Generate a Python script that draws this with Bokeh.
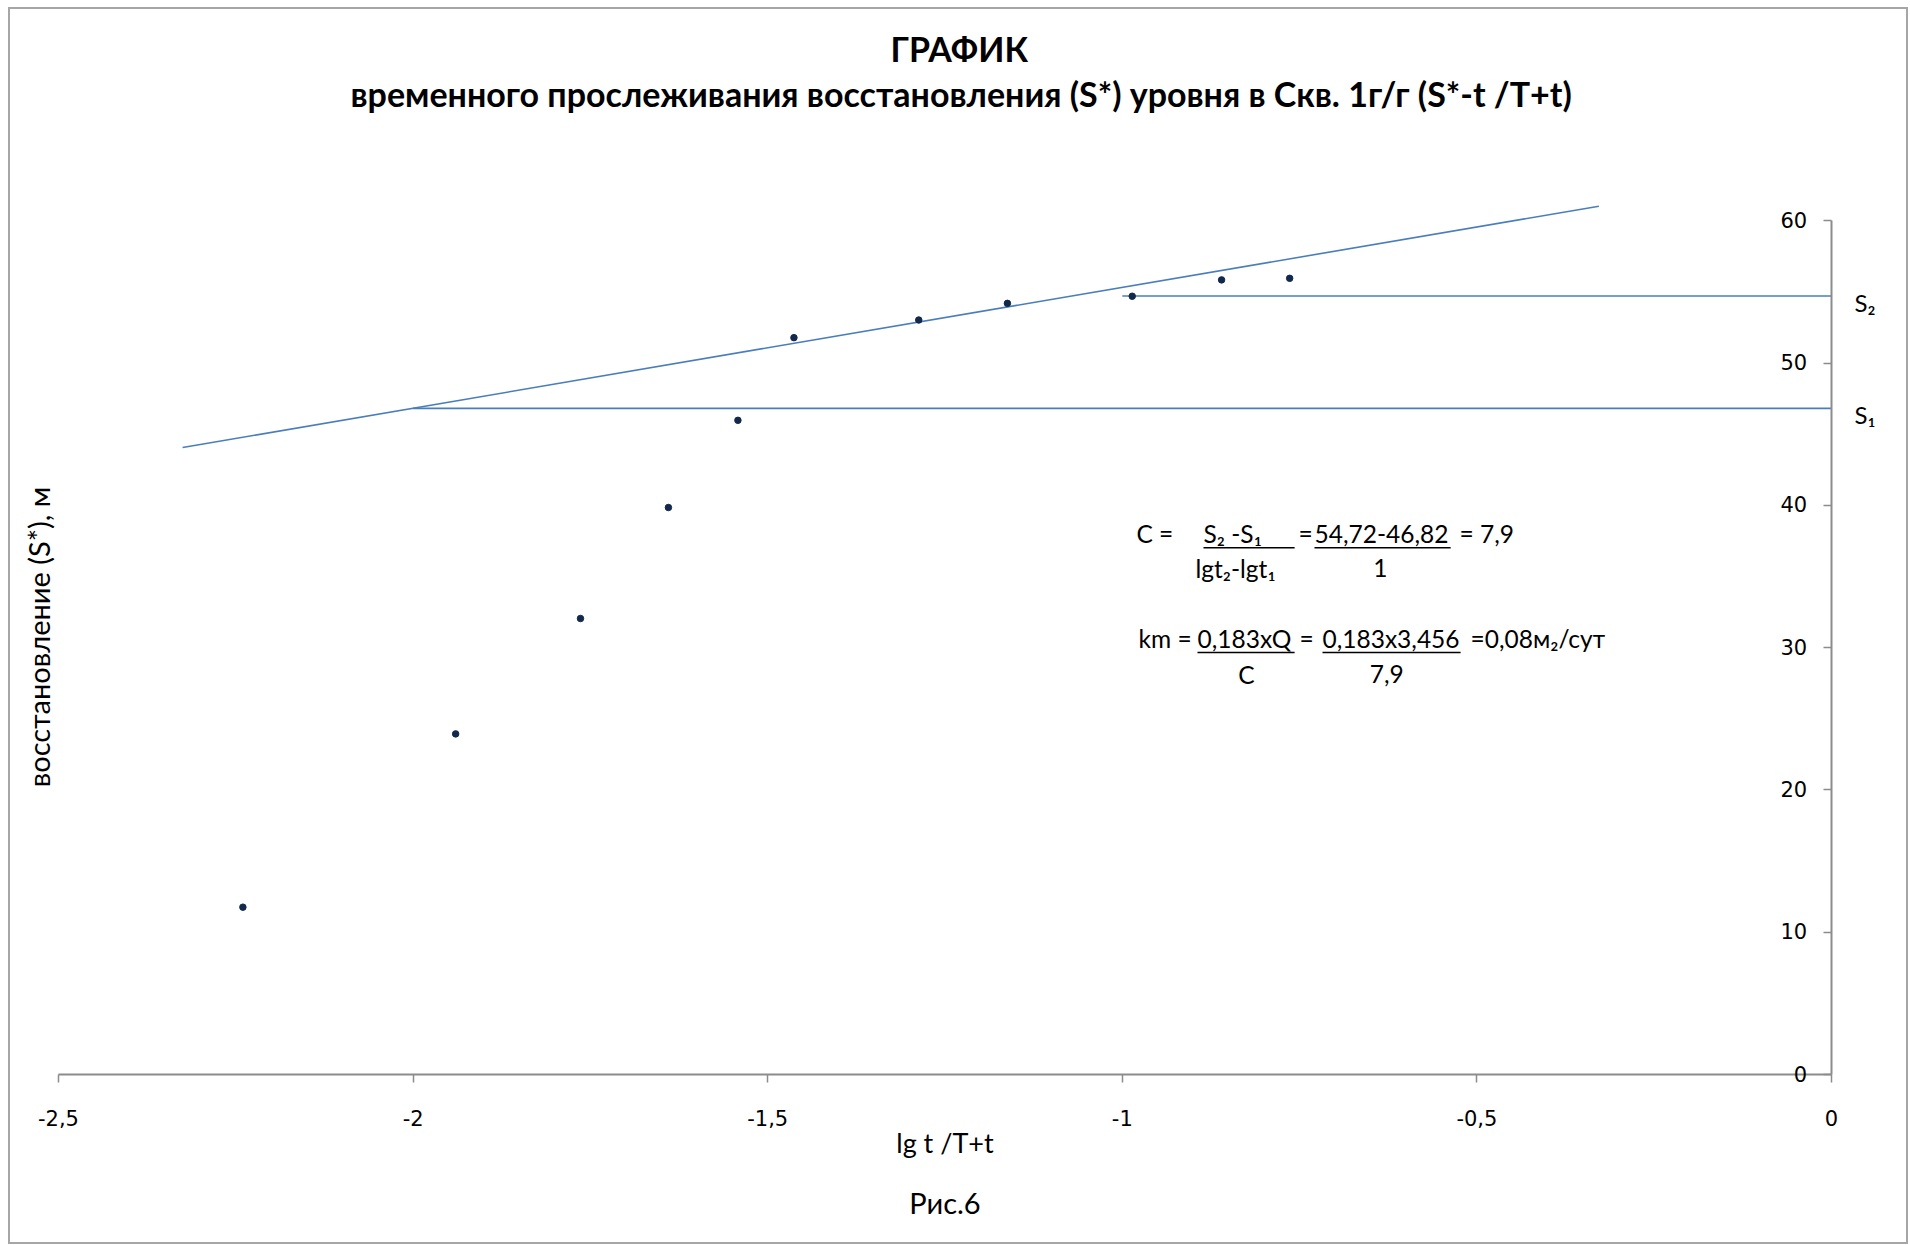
from bokeh.plotting import figure
from bokeh.models import (LinearAxis, FixedTicker, CustomJSTickFormatter, Title,
                          Range1d, ColumnDataSource)
from bokeh.embed import file_html
from bokeh.resources import INLINE
from bokeh.core.properties import value

# observations: lg t/(T+t) and recovery S*, m
lg_t = [-2.24, -1.94, -1.764, -1.64, -1.542, -1.463, -1.287, -1.162, -0.986, -0.86, -0.764]
s_star = [11.76, 23.94, 32.05, 39.85, 45.98, 51.79, 53.03, 54.2, 54.7, 55.85, 55.96]

# straight-line section drawn through the late-time points
trend_x = [-2.325, -0.328]
trend_y = [44.07, 61.03]

# levels at lg t1 = -2 and lg t2 = -1
lgt1, lgt2 = -2.0, -1.0
s1, s2 = 46.82, 54.72

x_ticks = [-2.5, -2.0, -1.5, -1.0, -0.5, 0.0]
y_ticks = [0, 10, 20, 30, 40, 50, 60]

FONT = "Lato"
TICK_FONT = "DejaVu Sans"
AXIS_GREY = "#8c8c8c"
LINE_BLUE = "#4a7ebb"
POINT_NAVY = "#13294b"
TEXT = "#000000"

p = figure(width=1896, height=1233, x_range=Range1d(-2.5, 0), y_range=Range1d(0, 61.5),
           output_backend="svg", toolbar_location=None, title=None,
           y_axis_location="right",
           min_border_left=48, min_border_right=75, min_border_top=190, min_border_bottom=168)
p.styles = {"margin-left": "10px", "margin-top": "9px", "outline": "2px solid #a6a6a6"}
p.background_fill_color = "white"
p.border_fill_color = "white"
p.outline_line_color = None
p.grid.visible = False

# x axis along S* = 0
xa = p.xaxis[0]
xa.ticker = FixedTicker(ticks=x_ticks)
xa.formatter = CustomJSTickFormatter(code="return tick.toString().replace('.', ',')")
xa.axis_line_color = AXIS_GREY
xa.axis_line_width = 2
xa.major_tick_line_color = AXIS_GREY
xa.major_tick_line_width = 1.5
xa.major_tick_out = 8
xa.major_tick_in = 0
xa.minor_tick_line_color = None
xa.major_label_text_font = TICK_FONT
xa.major_label_text_font_size = "21px"
xa.major_label_text_color = TEXT
xa.major_label_standoff = 27
xa.axis_label = "lg t /T+t"
xa.axis_label_text_font = FONT
xa.axis_label_text_font_size = "27px"
xa.axis_label_text_font_style = "normal"
xa.axis_label_text_color = TEXT
xa.axis_label_standoff = -3

# y axis at lg t = 0, labels on the inner side of the line
ya = p.yaxis[0]
ya.ticker = FixedTicker(ticks=y_ticks)
ya.bounds = (0, 60)
ya.axis_line_color = AXIS_GREY
ya.axis_line_width = 2
ya.major_tick_line_color = AXIS_GREY
ya.major_tick_line_width = 1.5
ya.major_tick_in = 8
ya.major_tick_out = 0
ya.minor_tick_line_color = None
ya.major_label_text_font = TICK_FONT
ya.major_label_text_font_size = "21px"
ya.major_label_text_color = TEXT
ya.major_label_standoff = -51
ya.major_label_overrides = {0: "\u20070"}

# S1 / S2 tags to the right of the y axis
s_tags = {54.25: "S₂", 46.42: "S₁"}
tag_axis = LinearAxis(ticker=FixedTicker(ticks=list(s_tags)), major_label_overrides=s_tags,
                      axis_line_color=None, major_tick_line_color=None,
                      minor_tick_line_color=None, major_label_text_font=FONT,
                      major_label_text_font_size="24px", major_label_text_color=TEXT,
                      major_label_standoff=17)
p.add_layout(tag_axis, "right")

# vertical axis title on the left side
left = LinearAxis(ticker=FixedTicker(ticks=[]), axis_line_color=None,
                  major_tick_line_color=None, minor_tick_line_color=None,
                  axis_label="восстановление (S*), м", axis_label_text_font=FONT,
                  axis_label_text_font_size="29px", axis_label_text_font_style="normal",
                  axis_label_text_color=TEXT, axis_label_standoff=3)
p.add_layout(left, "left")

# titles, kept clear of the plotting area by an empty spacer
spacer = Title(text=" ", text_font_size="10px", standoff=72)
p.add_layout(spacer, "above")
t2 = Title(text="временного прослеживания восстановления (S*) уровня в Скв. 1г/г (S*-t /T+t)",
           align="left", offset=292, text_font=FONT, text_font_size="34px",
           text_font_style="bold", text_color=TEXT, standoff=2)
p.add_layout(t2, "above")
t1 = Title(text="ГРАФИК", align="left", offset=832, text_font=FONT, text_font_size="34px",
           text_font_style="bold", text_color=TEXT, standoff=2)
p.add_layout(t1, "above")

cap = Title(text="Рис.6", align="center", text_font=FONT, text_font_size="29px",
            text_font_style="normal", text_color=TEXT, standoff=42)
p.add_layout(cap, "below")

# straight line and the S1 / S2 levels
p.line(trend_x, trend_y, line_color=LINE_BLUE, line_width=1.6)
p.line([lgt1, 0.0], [s1, s1], line_color=LINE_BLUE, line_width=1.6)
p.line([lgt2, 0.0], [s2, s2], line_color=LINE_BLUE, line_width=1.6)

# measured points
p.scatter(lg_t, s_star, size=6.5, marker="circle", fill_color=POINT_NAVY, line_color=POINT_NAVY)

# calculation of C and km
FS = "24.5px"
left_txt = ColumnDataSource(dict(
    x=[-0.980, -0.8855, -0.7516, -0.729, -0.5245, -0.8968,
       -0.977, -0.894, -0.750, -0.7177, -0.509],
    y=[38.0, 38.0, 38.0, 38.0, 38.0, 35.59,
       30.64, 30.64, 30.64, 30.64, 30.64],
    text=["C =", "S₂ -S₁", "=", "54,72-46,82", "= 7,9", "lgt₂-lgt₁",
          "km =", "0,183xQ", "=", "0,183x3,456", "=0,08м₂/сут"],
))
p.text(x="x", y="y", text="text", source=left_txt, text_font=value(FONT),
       text_font_size=FS, text_align="left", text_baseline="middle", text_color=TEXT)

center_txt = ColumnDataSource(dict(
    x=[-0.636, -0.825, -0.627],
    y=[35.59, 28.14, 28.14],
    text=["1", "C", "7,9"],
))
p.text(x="x", y="y", text="text", source=center_txt, text_font=value(FONT),
       text_font_size=FS, text_align="center", text_baseline="middle", text_color=TEXT)

# fraction bars
p.segment(x0=[-0.8855, -0.729], y0=[37.03, 37.03], x1=[-0.757, -0.537], y1=[37.03, 37.03],
          line_color=TEXT, line_width=1.5)
p.segment(x0=[-0.894, -0.7177], y0=[29.66, 29.66], x1=[-0.757, -0.523], y1=[29.66, 29.66],
          line_color=TEXT, line_width=1.5)

open("out.html", "w").write(file_html(p, INLINE))
